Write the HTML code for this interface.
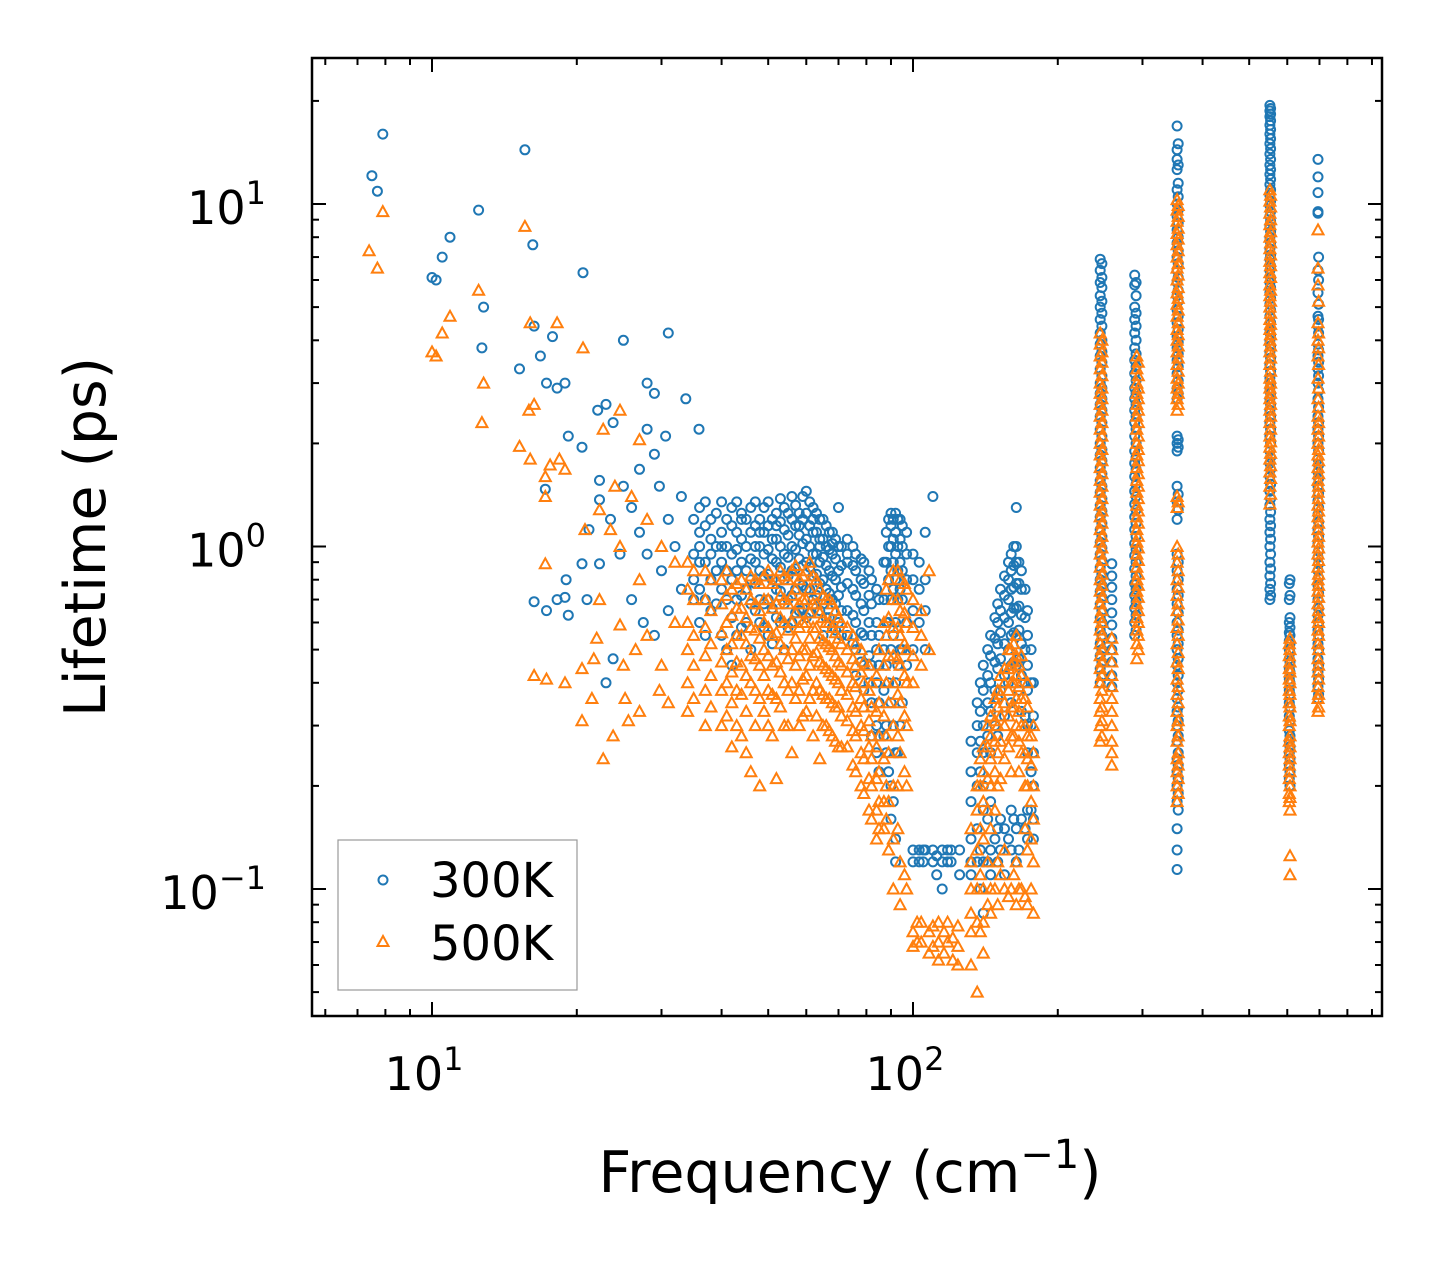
<!DOCTYPE html>
<html><head><meta charset="utf-8">
<style>
html,body{margin:0;padding:0;background:#fff;}
svg{display:block;font-family:"DejaVu Sans","Liberation Sans",sans-serif;}
</style></head>
<body>
<svg id="chart" width="1442" height="1265" viewBox="0 0 1442 1265" xmlns="http://www.w3.org/2000/svg">
<rect x="0" y="0" width="1442" height="1265" fill="#fff"/>
<g id="marks300"></g>
<g id="marks500"></g>
<g id="axes"></g>
<g>
  <rect x="338" y="840" width="239" height="150" fill="#fff" fill-opacity="0.8" stroke="#999" stroke-width="1.2"/>
  <circle cx="383" cy="880" r="4.5" fill="none" stroke="#1f77b4" stroke-width="2"/>
  <text x="430" y="897" font-size="48">300K</text>
  <polygon points="383,936 388.5,946 377.5,946" fill="none" stroke="#ff7f0e" stroke-width="2"/>
  <text x="430" y="960" font-size="48">500K</text>
</g>
<text x="850" y="1192" font-size="57" text-anchor="middle">Frequency (cm<tspan font-size="40" dy="-24">−1</tspan><tspan dy="24">)</tspan></text>
<text transform="translate(105,537) rotate(-90)" font-size="57" text-anchor="middle">Lifetime (ps)</text>
</svg>
<script>
// ---- data: [frequency, lifetime] scattered points ----
const blueScatter = [[7.5,12.1],[7.7,10.9],[7.9,16.0],[10,6.1],[10.2,6.0],[10.5,7.0],[10.9,8.0],[12.5,9.6],[12.8,5.0],[12.7,3.8],[15.6,14.4],[16.2,7.6],[20.6,6.3],[15.2,3.3],[16.3,4.4],[17.8,4.1],[16.8,3.6],[17.3,3.0],[18.2,2.9],[18.9,3.0],[31,4.2],[25,4.0],[28,3.0],[29,2.8],[33.7,2.7],[22.1,2.5],[23,2.6],[23.8,2.3],[30.6,2.1],[35.9,2.2],[19.2,2.1],[20.5,1.95],[22.3,1.56],[17.2,1.47],[16.3,0.69],[17.3,0.65],[18.9,0.71],[19,0.80],[20.5,0.89],[22.3,0.89],[23.5,1.2],[24.6,0.95],[23,0.40],[23.8,0.47],[27,1.68],[29,1.86],[29.7,1.5],[22.3,1.37],[21.2,1.12],[28,2.2],[18.2,0.70],[19.2,0.63],[21,0.70],[25,1.5],[26,1.3],[27,1.1],[28,0.95],[30,0.85],[31,1.2],[32,1.0],[33,0.75],[26,0.7],[27.5,0.6],[29,0.55],[31,0.65],[33,1.4]];
const orangeScatter = [[7.4,7.3],[7.7,6.5],[7.9,9.5],[10,3.7],[10.2,3.6],[10.5,4.2],[10.9,4.7],[12.5,5.6],[12.8,3.0],[12.7,2.3],[15.6,8.6],[16,4.5],[18.2,4.5],[20.6,3.8],[15.9,2.5],[16.3,2.6],[15.2,1.96],[16,1.8],[17.2,1.6],[17.6,1.73],[18.4,1.8],[18.9,1.68],[17.2,1.4],[17.2,0.89],[16.3,0.42],[17.3,0.41],[18.9,0.40],[20.5,0.44],[21.7,0.47],[22,0.54],[22.3,0.70],[24.6,2.5],[27,2.05],[22.7,2.2],[22.7,0.24],[23.8,0.28],[24.6,0.59],[25.2,0.36],[27,0.33],[25.6,0.31],[29.7,0.38],[31,0.35],[22.3,1.28],[23.5,1.12],[24.6,1.0],[20.8,1.12],[27,0.8],[20.5,0.31],[21.5,0.36],[24,1.5],[26,1.4],[28,1.2],[30,1.0],[32,0.9],[25,0.45],[26.5,0.5],[28,0.55],[30,0.45],[32,0.6]];
// ---- data: columns [frequency, [lifetimes...]] ----
const blueCols = [
[36,[1.3,1.1,0.9,0.75,1.0,0.6]],[38,[1.2,0.95,0.8,1.05,0.65]],[40,[1.35,1.1,0.9,0.75,0.55,1.0]],[42,[1.3,1.15,0.95,0.8,0.62,0.45]],
[44,[1.25,1.05,0.9,0.72,0.58,1.2]],[46,[1.3,1.1,0.92,0.8,0.68,0.5]],[48,[1.2,1.0,0.85,0.7,0.6,1.1]],[50,[1.35,1.15,0.98,0.83,0.7,0.55]],
[52,[1.25,1.05,0.9,0.75,0.62,1.15]],[54,[1.3,1.12,0.95,0.8,0.68,0.5]],[56,[1.4,1.2,1.0,0.85,0.72,0.6]],[58,[1.25,1.08,0.92,0.78,0.65,1.15]],
[60,[1.45,1.25,1.05,0.9,0.75,0.62]],[62,[1.3,1.1,0.95,0.82,0.7,1.2]],[64,[1.2,1.05,0.9,0.78,0.65,1.0]],[66,[1.15,1.0,0.88,0.75,0.62]],
[68,[1.1,0.95,0.82,0.7,0.58,1.02]],[70,[1.3,1.0,0.85,0.72,0.6]],[73,[1.05,0.9,0.78,0.65,0.55,0.95]],[76,[0.95,0.85,0.72,0.6,0.5,0.42]],
[79,[0.9,0.78,0.65,0.55,0.45,0.38]],[82,[0.8,0.68,0.55,0.45,0.35,0.28]],[85,[0.7,0.55,0.45,0.35,0.28,0.22]],[88,[1.1,0.9,0.6,0.45,0.3,0.25]],
[90,[1.25,1.15,1.0,0.85,0.7,0.5,0.35,0.2,0.16]],[92,[1.25,1.1,0.95,0.8,0.6,0.4,0.25,0.14,0.12]],[94,[1.2,1.05,0.9,0.75,0.5,0.3]],
[97,[1.1,0.95,0.8,0.6,0.45]],[100,[0.95,0.8,0.65,0.5,0.13,0.12]],[103,[0.9,0.75,0.6,0.13,0.12]],[106,[1.1,0.8,0.65,0.5,0.13]],
[110,[1.4,0.13,0.12]],[115,[0.1,0.12,0.13]],[120,[0.13,0.12]],[125,[0.13,0.11]],
[132,[0.27,0.22,0.18,0.14,0.12,0.11]],[136,[0.35,0.3,0.25,0.2,0.15,0.12]],[140,[0.45,0.38,0.3,0.25,0.2,0.17,0.12,0.085]],
[145,[0.55,0.48,0.4,0.33,0.25,0.18,0.13,0.11]],[150,[0.68,0.6,0.52,0.44,0.36,0.28,0.15,0.12]],[155,[0.82,0.72,0.62,0.52,0.42,0.32,0.15,0.11]],
[160,[0.95,0.85,0.75,0.64,0.55,0.45,0.35,0.17,0.13]],[164,[1.3,1.0,0.9,0.78,0.66,0.55,0.45,0.15,0.12]],[168,[0.85,0.75,0.63,0.52,0.42,0.33,0.16]],
[173,[0.65,0.55,0.45,0.38,0.3,0.25,0.17,0.14]],[178,[0.4,0.32,0.25,0.2,0.16,0.14]],
[245,[6.9,6.4,5.9,5.4,5.0,4.6,4.2,3.9,3.6,3.3,3.0,2.8,2.6,2.4,2.2,2.0,1.85,1.7,1.56,1.44,1.32,1.22,1.12,1.03,0.95,0.87,0.8,0.74,0.68,0.62,0.57,0.52,0.48,0.44,0.4]],
[259,[0.89,0.82,0.76,0.7,0.64,0.59,0.54,0.5,0.46,0.42,0.39]],
[289,[6.2,5.8,5.0,4.6,4.2,3.8,3.5,3.2,2.9,2.7,2.5,2.3,2.1,1.9,1.75,1.6,1.45,1.33,1.22,1.12,1.02,0.94,0.86,0.78,0.72,0.66,0.6,0.55]],
[354,[16.9,14.4,13.5,12.6,11,10,9.2,8.4,7.7,7.0,6.4,5.9,5.4,4.9,4.5,4.1,3.8,3.5,3.2,2.9,2.7,2.1,2.0,1.9,1.5,1.35,1.2,0.95,0.85,0.75,0.68,0.6,0.55,0.5,0.45,0.4,0.36,0.33,0.3,0.27,0.24,0.22,0.2,0.18,0.15,0.13,0.114]],
[552,[19.4,18.7,18,17,16,15,14,13,12.2,11.4,10.6,9.9,9.2,8.6,8.0,7.4,6.9,6.4,5.9,5.5,5.1,4.7,4.3,4.0,3.7,3.4,3.1,2.9,2.7,2.5,2.3,2.1,1.9,1.75,1.6,1.45,1.32,1.2,1.1,1.0,0.9,0.82,0.75,0.7]],
[608,[0.8,0.72,0.62,0.58,0.55,0.52,0.49,0.46,0.43,0.4,0.37,0.34,0.31,0.28,0.26,0.24,0.22,0.2]],
[695,[13.5,12,10.8,9.5,9.4,6.4,5.5,4.7,4.4,3.9,3.6,3.3,3.0,2.7,2.4,2.2,2.0,1.8,1.65,1.5,1.36,1.24,1.12,1.02,0.93,0.85,0.77,0.7,0.63,0.57,0.52,0.47,0.43,0.39,0.36]]
];
const blueColsExtra = [
[35,[1.2,0.95,0.8,0.7]],[37,[1.35,1.15,0.9,0.7,0.55]],[39,[1.25,1.0,0.85,0.68]],[41,[1.2,1.0,0.85,0.7,0.5]],
[43,[1.35,1.1,0.98,0.85,0.7,0.55]],[45,[1.2,1.0,0.85,0.75,0.6]],[47,[1.35,1.15,1.0,0.9,0.78,0.65]],[49,[1.3,1.1,0.95,0.82,0.68,0.58]],
[51,[1.2,1.05,0.92,0.8,0.66,0.52]],[53,[1.38,1.18,1.0,0.87,0.74,0.6]],[55,[1.25,1.08,0.93,0.82,0.7,0.58]],[57,[1.32,1.15,0.98,0.86,0.75,0.64]],
[59,[1.4,1.2,1.02,0.88,0.77,0.66]],[61,[1.35,1.15,1.0,0.87,0.75,0.64]],[63,[1.25,1.1,0.95,0.83,0.72]],[65,[1.2,1.05,0.93,0.8,0.68,0.55]],
[67,[1.1,0.98,0.85,0.73,0.62]],[69,[1.05,0.92,0.8,0.68,0.57]],[71,[1.0,0.88,0.76,0.65,0.55]],[75,[1.0,0.88,0.75,0.63,0.52]],
[78,[0.92,0.8,0.68,0.56,0.46]],[81,[0.85,0.72,0.6,0.48,0.4]],[84,[0.75,0.6,0.5,0.4,0.3,0.25]],[87,[0.9,0.7,0.5,0.38,0.28]],
[89,[1.2,1.0,0.8,0.6,0.4,0.22]],[91,[1.2,1.05,0.9,0.75,0.55,0.3,0.18]],[93,[1.2,1.0,0.85,0.7,0.45,0.25]],[95,[1.15,1.0,0.85,0.7,0.5,0.35]],
[105,[0.12,0.13]],[112,[0.125,0.11]],[118,[0.12,0.13]],
[138,[0.4,0.33,0.27,0.22,0.13,0.1]],[143,[0.5,0.42,0.35,0.28,0.16,0.12]],[148,[0.62,0.54,0.46,0.38,0.3,0.14]],[152,[0.75,0.65,0.56,0.47,0.38,0.16,0.13]],
[158,[0.9,0.8,0.7,0.6,0.5,0.4,0.14]],[162,[1.0,0.88,0.76,0.66,0.56,0.46,0.16]],[166,[0.9,0.78,0.67,0.57,0.47,0.38,0.13]],[171,[0.75,0.62,0.5,0.4,0.32,0.15]],[176,[0.5,0.4,0.3,0.22,0.17]],
[247,[6.7,6.1,5.7,5.2,4.8,4.4,4.0,3.7,3.45,3.15,2.9,2.7,2.5,2.3,2.1,1.92,1.78,1.63,1.5,1.38,1.27,1.17,1.07,0.99,0.91,0.83,0.77,0.71,0.65,0.6,0.55,0.5,0.46,0.42]],
[291,[5.9,5.4,4.8,4.4,4.0,3.65,3.35,3.05,2.8,2.6,2.4,2.2,2.0,1.82,1.68,1.52,1.4,1.28,1.17,1.07,0.98,0.9,0.82,0.75,0.69,0.63,0.57]],
[356,[15,13,11.5,10.5,9.6,8.8,8.0,7.3,6.7,6.1,5.6,5.2,4.7,4.3,3.95,3.65,3.35,3.05,2.8,2.05,1.95,1.42,1.28,0.9,0.8,0.72,0.64,0.57,0.52,0.47,0.42,0.38,0.34,0.31,0.28,0.25,0.23,0.21,0.19,0.17]],
[554,[19,18.3,17.5,16.5,15.5,14.5,13.5,12.6,11.8,11,10.2,9.5,8.9,8.3,7.7,7.1,6.6,6.1,5.7,5.3,4.9,4.5,4.15,3.85,3.55,3.25,3.0,2.8,2.6,2.4,2.2,2.0,1.82,1.68,1.52,1.38,1.26,1.15,1.05,0.95,0.86,0.78,0.72]],
[606,[0.78,0.7,0.6,0.56,0.53,0.5,0.47,0.44,0.41,0.38,0.35,0.32,0.29,0.27,0.25,0.23,0.21]],
[697,[7,6,5.1,4.6,4.2,3.75,3.45,3.15,2.85,2.55,2.3,2.1,1.9,1.73,1.58,1.43,1.3,1.18,1.07,0.97,0.89,0.81,0.73,0.66,0.6,0.55,0.5,0.45,0.41,0.37]]
];
const orangeCols = [
[34,[0.9,0.75,0.6,0.5,0.4,0.33]],[37,[0.85,0.7,0.58,0.48,0.38,0.3]],[40,[0.8,0.68,0.56,0.46,0.38,0.3]],[42,[0.75,0.63,0.52,0.43,0.35,0.26]],
[44,[0.8,0.66,0.55,0.45,0.37,0.28]],[46,[0.82,0.7,0.58,0.48,0.4,0.22]],[48,[0.78,0.65,0.54,0.45,0.36,0.2]],[50,[0.85,0.7,0.58,0.48,0.38,0.3]],
[52,[0.8,0.68,0.56,0.46,0.36,0.21]],[54,[0.82,0.7,0.6,0.5,0.4,0.3]],[56,[0.85,0.72,0.6,0.5,0.4,0.25]],[58,[0.8,0.68,0.58,0.48,0.38,0.3]],
[60,[0.85,0.7,0.6,0.5,0.42,0.33]],[62,[0.82,0.68,0.58,0.48,0.38,0.28]],[64,[0.75,0.64,0.54,0.46,0.38,0.24]],[66,[0.7,0.6,0.52,0.44,0.36,0.3]],
[68,[0.68,0.58,0.5,0.42,0.35,0.28]],[70,[0.62,0.54,0.46,0.4,0.34,0.26]],[73,[0.58,0.5,0.43,0.37,0.31,0.26]],[76,[0.52,0.45,0.39,0.33,0.28,0.22]],
[79,[0.46,0.4,0.34,0.29,0.24,0.19]],[82,[0.4,0.34,0.28,0.24,0.2,0.16]],[85,[0.5,0.35,0.28,0.22,0.18,0.15]],[88,[0.75,0.55,0.4,0.28,0.2,0.16]],
[91,[0.85,0.7,0.58,0.48,0.4,0.3,0.2,0.14,0.1]],[94,[0.8,0.65,0.55,0.45,0.35,0.25,0.12,0.09]],[97,[0.75,0.6,0.5,0.4,0.3,0.2,0.1]],
[100,[0.7,0.58,0.48,0.4,0.075,0.068]],[104,[0.65,0.55,0.45,0.08,0.07]],[108,[0.85,0.5,0.075,0.065]],[113,[0.08,0.07,0.062]],
[118,[0.08,0.07]],[124,[0.078,0.068,0.06]],[132,[0.15,0.12,0.1,0.085,0.075,0.06]],[136,[0.2,0.17,0.13,0.1,0.08,0.05]],
[140,[0.26,0.22,0.18,0.14,0.1,0.08,0.065]],[145,[0.32,0.28,0.24,0.2,0.15,0.1,0.085]],[150,[0.38,0.34,0.3,0.25,0.2,0.12,0.09]],
[155,[0.44,0.4,0.35,0.3,0.24,0.13,0.1]],[160,[0.5,0.45,0.4,0.34,0.28,0.22,0.1]],[164,[0.55,0.48,0.42,0.36,0.3,0.12,0.09]],
[168,[0.48,0.42,0.36,0.3,0.25,0.1]],[173,[0.4,0.34,0.28,0.24,0.2,0.13,0.09]],[178,[0.3,0.25,0.2,0.16,0.12,0.085]],
[245,[4.2,3.9,3.6,3.3,3.0,2.8,2.6,2.4,2.2,2.0,1.85,1.7,1.56,1.44,1.32,1.22,1.12,1.03,0.95,0.87,0.8,0.74,0.68,0.62,0.57,0.52,0.48,0.44,0.4,0.36,0.33,0.3,0.27]],
[259,[0.54,0.5,0.46,0.42,0.39,0.36,0.33,0.3,0.27,0.25,0.23]],
[292,[3.6,3.3,3.0,2.8,2.6,2.4,2.2,2.0,1.85,1.7,1.56,1.44,1.32,1.22,1.12,1.03,0.95,0.87,0.8,0.74,0.68,0.62,0.57,0.52,0.47]],
[354,[10.3,9.6,8.9,8.2,7.6,7.0,6.5,6.0,5.5,5.1,4.7,4.3,4.0,3.7,3.4,3.1,2.9,2.7,2.5,1.4,1.3,1.0,0.9,0.8,0.72,0.65,0.58,0.52,0.46,0.41,0.37,0.33,0.3,0.27,0.24,0.22,0.2,0.18]],
[552,[11,10.2,9.4,8.7,8.0,7.4,6.8,6.3,5.8,5.4,5.0,4.6,4.3,4.0,3.7,3.4,3.1,2.9,2.7,2.5,2.3,2.1,1.95,1.8,1.65,1.5,1.33]],
[608,[0.54,0.5,0.46,0.43,0.4,0.37,0.34,0.31,0.28,0.26,0.24,0.22,0.2,0.185,0.17,0.125,0.11]],
[695,[8.4,6.5,5.8,4.5,4.0,3.6,3.1,2.7,2.4,2.2,2.0,1.85,1.7,1.56,1.44,1.32,1.22,1.12,1.03,0.95,0.87,0.8,0.74,0.68,0.62,0.57,0.52,0.47,0.43,0.39,0.36,0.33]]
];
const orangeColsExtra = [
[35,[0.85,0.7,0.55,0.45,0.36]],[38,[0.8,0.65,0.52,0.42,0.34]],[41,[0.85,0.72,0.6,0.5,0.4,0.32]],[43,[0.78,0.66,0.55,0.46,0.38,0.3]],
[45,[0.75,0.62,0.52,0.42,0.33,0.25]],[47,[0.8,0.68,0.57,0.47,0.38,0.3]],[49,[0.82,0.7,0.6,0.5,0.42,0.33]],[51,[0.78,0.66,0.55,0.45,0.37,0.28]],
[53,[0.85,0.72,0.62,0.52,0.43,0.34]],[55,[0.8,0.68,0.57,0.47,0.38,0.3]],[57,[0.88,0.75,0.64,0.54,0.45,0.36]],[59,[0.82,0.7,0.6,0.5,0.41,0.32]],
[61,[0.9,0.75,0.64,0.54,0.45,0.36]],[63,[0.8,0.68,0.58,0.49,0.4,0.32]],[65,[0.72,0.62,0.53,0.45,0.37,0.3]],[67,[0.7,0.6,0.51,0.43,0.36,0.29]],
[69,[0.65,0.56,0.48,0.41,0.34,0.27]],[71,[0.6,0.52,0.45,0.38,0.32,0.26]],[75,[0.55,0.47,0.4,0.34,0.29,0.23]],[78,[0.5,0.43,0.36,0.3,0.25,0.2]],
[81,[0.45,0.38,0.31,0.26,0.21,0.17]],[84,[0.42,0.33,0.26,0.21,0.17,0.14]],[87,[0.6,0.45,0.32,0.24,0.18,0.15]],[89,[0.8,0.62,0.48,0.35,0.25,0.18,0.13]],
[93,[0.85,0.7,0.58,0.47,0.37,0.28,0.2,0.15]],[96,[0.78,0.64,0.52,0.42,0.32,0.22,0.11]],
[102,[0.08,0.07]],[110,[0.078,0.068]],[116,[0.075,0.065]],[121,[0.072,0.062]],
[138,[0.24,0.2,0.15,0.11,0.075]],[143,[0.3,0.26,0.21,0.17,0.12,0.09]],[148,[0.36,0.31,0.27,0.22,0.17,0.1]],[152,[0.42,0.37,0.32,0.27,0.21,0.11]],
[158,[0.5,0.44,0.38,0.32,0.26,0.095]],[162,[0.52,0.46,0.4,0.34,0.28,0.11]],[166,[0.45,0.39,0.33,0.27,0.22,0.1]],[171,[0.36,0.3,0.25,0.2,0.15,0.095]],[176,[0.28,0.23,0.18,0.14,0.1]],
[247,[4.0,3.7,3.45,3.15,2.9,2.7,2.5,2.3,2.1,1.92,1.78,1.63,1.5,1.38,1.27,1.17,1.07,0.99,0.91,0.83,0.77,0.71,0.65,0.6,0.55,0.5,0.46,0.42,0.38,0.34,0.31,0.28]],
[294,[3.45,3.15,2.9,2.7,2.5,2.3,2.1,1.92,1.78,1.63,1.5,1.38,1.27,1.17,1.07,0.99,0.91,0.83,0.77,0.71,0.65,0.6,0.55,0.5]],
[356,[9.9,9.2,8.5,7.9,7.3,6.7,6.2,5.7,5.3,4.9,4.5,4.15,3.85,3.55,3.25,3.0,2.8,2.6,1.35,0.95,0.85,0.76,0.68,0.61,0.55,0.49,0.44,0.39,0.35,0.31,0.28,0.25,0.23,0.21,0.19]],
[554,[10.6,9.8,9.0,8.3,7.7,7.1,6.6,6.1,5.6,5.2,4.8,4.45,4.15,3.85,3.55,3.25,3.0,2.8,2.6,2.4,2.2,2.02,1.87,1.72,1.58,1.42]],
[606,[0.52,0.48,0.44,0.41,0.38,0.35,0.32,0.3,0.27,0.25,0.23,0.21,0.19,0.18]],
[697,[5.2,4.2,3.8,3.4,2.9,2.55,2.3,2.1,1.92,1.78,1.63,1.5,1.38,1.27,1.17,1.07,0.99,0.91,0.83,0.77,0.71,0.65,0.6,0.55,0.5,0.45,0.41,0.37,0.34]]
];
const xTickVals = [10, 100];
const xTickLabels = ["10","10"];
const xTickExps = ["1","2"];
const yTickVals = [0.1, 1, 10];
const yTickExps = ["−1","0","1"];

// ---- axis functions ----
const X0=312, X1=1382, Y0=58, Y1=1016;
const xLogMin=0.7505, xLogMax=2.9751, yLogMin=-1.3708, yLogMax=1.4263;
function xs(v){return X0+(Math.log10(v)-xLogMin)/(xLogMax-xLogMin)*(X1-X0);}
function ys(v){return Y1-(Math.log10(v)-yLogMin)/(yLogMax-yLogMin)*(Y1-Y0);}
const NS="http://www.w3.org/2000/svg";
function mk(tag,attrs,parent){const e=document.createElementNS(NS,tag);for(const k in attrs)e.setAttribute(k,attrs[k]);parent.appendChild(e);return e;}

const g3=document.getElementById('marks300'), g5=document.getElementById('marks500');
function circle(f,l){
  const c=mk('circle',{cx:xs(f).toFixed(1),cy:ys(l).toFixed(1),r:4.5,fill:'none',stroke:'#1f77b4','stroke-width':2},g3);
  
  
}
function tri(f,l){
  const x=xs(f), y=ys(l);
  const p=mk('polygon',{points:`${x.toFixed(1)},${(y-5.5).toFixed(1)} ${(x+5.5).toFixed(1)},${(y+4.5).toFixed(1)} ${(x-5.5).toFixed(1)},${(y+4.5).toFixed(1)}`,fill:'none',stroke:'#ff7f0e','stroke-width':2},g5);
  
  
}
blueScatter.forEach(p=>circle(p[0],p[1]));
blueCols.forEach(c=>c[1].forEach(l=>circle(c[0],l)));
blueColsExtra.forEach(c=>c[1].forEach(l=>circle(c[0],l)));
orangeScatter.forEach(p=>tri(p[0],p[1]));
orangeCols.forEach(c=>c[1].forEach(l=>tri(c[0],l)));
orangeColsExtra.forEach(c=>c[1].forEach(l=>tri(c[0],l)));

// ---- axes ----
const ax=document.getElementById('axes');
const frame=mk('rect',{x:X0,y:Y0,width:X1-X0,height:Y1-Y0,fill:'none',stroke:'#000','stroke-width':2.5},ax);


function tickX(v,len){
  const x=xs(v);
  mk('line',{x1:x,y1:Y1,x2:x,y2:Y1-len,stroke:'#000','stroke-width':2},ax);
  mk('line',{x1:x,y1:Y0,x2:x,y2:Y0+len,stroke:'#000','stroke-width':2},ax);
}
function tickY(v,len){
  const y=ys(v);
  mk('line',{x1:X0,y1:y,x2:X0+len,y2:y,stroke:'#000','stroke-width':2},ax);
  mk('line',{x1:X1,y1:y,x2:X1-len,y2:y,stroke:'#000','stroke-width':2},ax);
}
for(let d=1;d<=100;d*=10)for(let m=1;m<10;m++){const v=m*d;if(Math.log10(v)>xLogMin&&Math.log10(v)<xLogMax)tickX(v,m===1?14:7);}
for(let d=0.01;d<=10.1;d*=10)for(let m=1;m<10;m++){const v=m*d;if(Math.log10(v)>yLogMin&&Math.log10(v)<yLogMax)tickY(v,m===1?14:7);}
xTickVals.forEach((v,i)=>{
  const t=mk('text',{x:xs(v)-8,y:1090,'font-size':46,'text-anchor':'middle'},ax);
  
  
  t.textContent=xTickLabels[i];
  const s=mk('tspan',{'font-size':32,dy:-20},t); s.textContent=xTickExps[i];
});
yTickVals.forEach((v,i)=>{
  const t=mk('text',{x:266,y:ys(v)+20,'font-size':46,'text-anchor':'end'},ax);
  
  
  t.textContent='10';
  const s=mk('tspan',{'font-size':32,dy:-20},t); s.textContent=yTickExps[i];
});
</script>
</body></html>
